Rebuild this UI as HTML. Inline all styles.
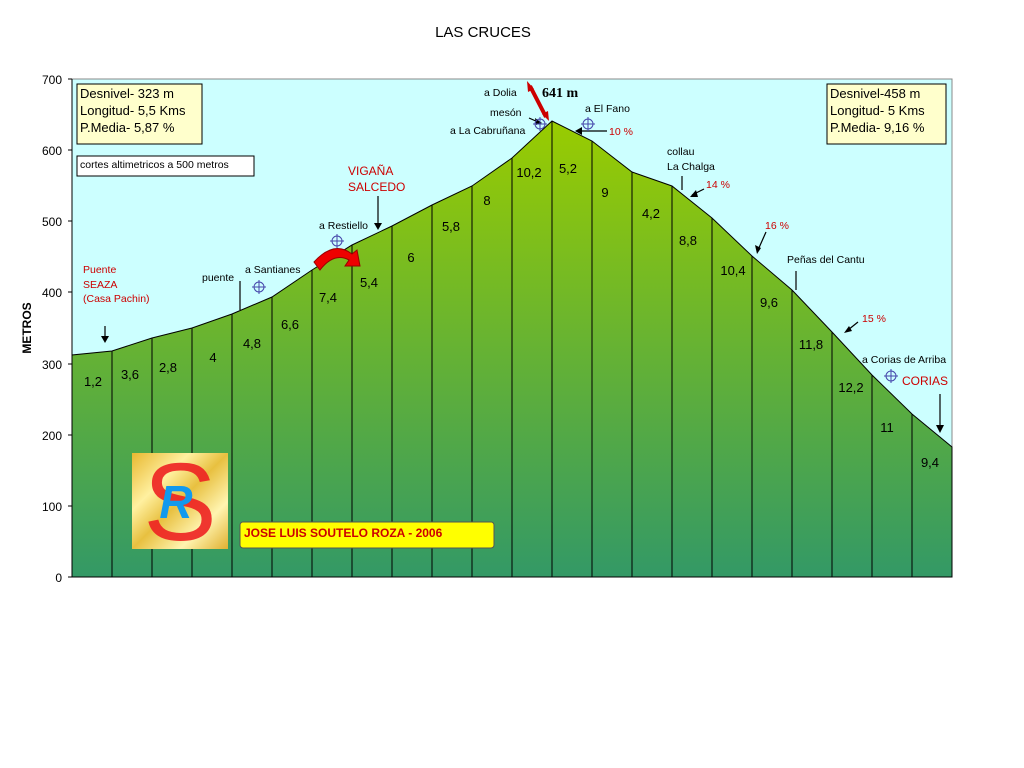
<!DOCTYPE html>
<html><head><meta charset="utf-8"><style>body{margin:0;background:#fff}svg{display:block}</style></head><body>
<svg width="1024" height="768" xmlns="http://www.w3.org/2000/svg" font-family="Liberation Sans, sans-serif">
<defs>
<linearGradient id="g" gradientUnits="userSpaceOnUse" x1="0" y1="121" x2="0" y2="577">
<stop offset="0" stop-color="#99cc00"/><stop offset="1" stop-color="#339966"/></linearGradient>
<linearGradient id="gold" x1="0" y1="0" x2="1" y2="1">
<stop offset="0" stop-color="#e8b830"/><stop offset="0.3" stop-color="#fff0a0"/><stop offset="0.5" stop-color="#e8c040"/><stop offset="0.75" stop-color="#fff4b0"/><stop offset="1" stop-color="#e0b030"/></linearGradient>
</defs>
<text x="483" y="37" font-size="15" text-anchor="middle">LAS CRUCES</text>
<rect x="72" y="79" width="880" height="498" fill="#ccffff" stroke="#888" stroke-width="1"/>
<polygon fill="url(#g)" stroke="#000" stroke-width="1" points="72,577 72,355 112,351 152,338 192,328 232,314 272,297 312,270 352,245 392,226 432,205 472,186 512,158 552,121 592,141 632,172 672,186 712,218 752,256 792,290 832,332 872,375 912,414 952,447 952,577"/>
<g stroke="#000" stroke-width="1">
<line x1="112" y1="351" x2="112" y2="577"/><line x1="152" y1="338" x2="152" y2="577"/><line x1="192" y1="328" x2="192" y2="577"/><line x1="232" y1="314" x2="232" y2="577"/><line x1="272" y1="297" x2="272" y2="577"/><line x1="312" y1="270" x2="312" y2="577"/><line x1="352" y1="245" x2="352" y2="577"/><line x1="392" y1="226" x2="392" y2="577"/><line x1="432" y1="205" x2="432" y2="577"/><line x1="472" y1="186" x2="472" y2="577"/><line x1="512" y1="158" x2="512" y2="577"/><line x1="552" y1="121" x2="552" y2="577"/><line x1="592" y1="141" x2="592" y2="577"/><line x1="632" y1="172" x2="632" y2="577"/><line x1="672" y1="186" x2="672" y2="577"/><line x1="712" y1="218" x2="712" y2="577"/><line x1="752" y1="256" x2="752" y2="577"/><line x1="792" y1="290" x2="792" y2="577"/><line x1="832" y1="332" x2="832" y2="577"/><line x1="872" y1="375" x2="872" y2="577"/><line x1="912" y1="414" x2="912" y2="577"/>
<line x1="72" y1="79" x2="72" y2="577"/><line x1="72" y1="577" x2="952" y2="577"/>
<line x1="68" y1="79" x2="72" y2="79"/><line x1="68" y1="150" x2="72" y2="150"/><line x1="68" y1="221" x2="72" y2="221"/><line x1="68" y1="292" x2="72" y2="292"/><line x1="68" y1="364" x2="72" y2="364"/><line x1="68" y1="435" x2="72" y2="435"/><line x1="68" y1="506" x2="72" y2="506"/><line x1="68" y1="577" x2="72" y2="577"/>
</g>
<g font-size="12" text-anchor="end">
<text x="62" y="84">700</text><text x="62" y="155">600</text><text x="62" y="226">500</text><text x="62" y="297">400</text><text x="62" y="369">300</text><text x="62" y="440">200</text><text x="62" y="511">100</text><text x="62" y="582">0</text></g>
<text transform="translate(31,328) rotate(-90)" font-size="12" font-weight="bold" text-anchor="middle">METROS</text>
<g font-size="13" text-anchor="middle">
<text x="93" y="386">1,2</text><text x="130" y="379">3,6</text><text x="168" y="372">2,8</text><text x="213" y="362">4</text><text x="252" y="348">4,8</text><text x="290" y="329">6,6</text><text x="328" y="302">7,4</text><text x="369" y="287">5,4</text><text x="411" y="262">6</text><text x="451" y="231">5,8</text><text x="487" y="205">8</text><text x="529" y="177">10,2</text><text x="568" y="173">5,2</text><text x="605" y="197">9</text><text x="651" y="218">4,2</text><text x="688" y="245">8,8</text><text x="733" y="275">10,4</text><text x="769" y="307">9,6</text><text x="811" y="349">11,8</text><text x="851" y="392">12,2</text><text x="887" y="432">11</text><text x="930" y="467">9,4</text></g>
<rect x="77" y="84" width="125" height="60" fill="#ffffcc" stroke="#000"/>
<g font-size="13"><text x="80" y="98">Desnivel- 323 m</text><text x="80" y="115">Longitud- 5,5 Kms</text><text x="80" y="132">P.Media- 5,87 %</text></g>
<rect x="827" y="84" width="119" height="60" fill="#ffffcc" stroke="#000"/>
<g font-size="13"><text x="830" y="98">Desnivel-458 m</text><text x="830" y="115">Longitud- 5 Kms</text><text x="830" y="132">P.Media- 9,16 %</text></g>
<rect x="77" y="156" width="177" height="20" fill="#fff" stroke="#000"/>
<text x="80" y="168" font-size="10.5">cortes altimetricos a 500 metros</text>
<g font-size="10.5" fill="#cc0000"><text x="83" y="273">Puente</text><text x="83" y="288">SEAZA</text><text x="83" y="302">(Casa Pachin)</text>
<text x="348" y="175" font-size="12">VIGAÑA</text><text x="348" y="191" font-size="12">SALCEDO</text>
<text x="609" y="135">10 %</text><text x="706" y="188">14 %</text><text x="765" y="229">16 %</text><text x="862" y="322">15 %</text><text x="902" y="385" font-size="12">CORIAS</text></g>
<g font-size="10.5"><text x="202" y="281">puente</text><text x="245" y="273">a Santianes</text><text x="319" y="229">a Restiello</text>
<text x="484" y="96">a Dolia</text><text x="490" y="116">mesón</text><text x="450" y="134">a La Cabruñana</text><text x="585" y="112">a El Fano</text>
<text x="667" y="155">collau</text><text x="667" y="170">La Chalga</text><text x="787" y="263">Peñas del Cantu</text><text x="862" y="363">a Corias de Arriba</text></g>
<text x="542" y="97" font-family="Liberation Serif, serif" font-weight="bold" font-size="14">641 m</text>
<g stroke="#000" stroke-width="1.2" fill="none">
<line x1="105" y1="326" x2="105" y2="340"/><line x1="240" y1="281" x2="240" y2="310"/><line x1="378" y1="196" x2="378" y2="226"/>
<line x1="607" y1="131" x2="580" y2="131"/><line x1="704" y1="189" x2="692" y2="195"/><line x1="766" y1="232" x2="758" y2="250"/>
<line x1="682" y1="176" x2="682" y2="190"/><line x1="796" y1="271" x2="796" y2="290"/><line x1="858" y1="322" x2="848" y2="330"/>
<line x1="940" y1="394" x2="940" y2="428"/><line x1="529" y1="118" x2="538" y2="122"/></g>
<g fill="#000"><polygon points="101,336 109,336 105,343"/><polygon points="374,223 382,223 378,230"/><polygon points="582,127 582,135 575,131"/>
<polygon points="696,190 698,197 690,197"/><polygon points="755,245 761,248 757,254"/><polygon points="849,326 852,331 844,333"/><polygon points="936,425 944,425 940,433"/><polygon points="535,118 536,125 542,123"/></g>
<line x1="530" y1="86" x2="546" y2="117" stroke="#cc0000" stroke-width="4"/>
<polygon points="527,81 534,89 528,92" fill="#cc0000"/><polygon points="549,121 548,111 542,114" fill="#cc0000"/>
<path d="M314,262 Q334,240 352,254 L357,250 L360,266 L345,266 L349,260 Q334,252 320,270 Z" fill="#ee0000" stroke="#990000" stroke-width="1"/>
<g stroke="#4444aa" fill="none" stroke-width="1"><circle cx="259" cy="287" r="5"/><line x1="252" y1="287" x2="266" y2="287"/><line x1="259" y1="280" x2="259" y2="294"/>
<circle cx="337" cy="241" r="5"/><line x1="330" y1="241" x2="344" y2="241"/><line x1="337" y1="234" x2="337" y2="248"/>
<circle cx="540" cy="124" r="5"/><line x1="533" y1="124" x2="547" y2="124"/><line x1="540" y1="117" x2="540" y2="131"/>
<circle cx="588" cy="124" r="5"/><line x1="581" y1="124" x2="595" y2="124"/><line x1="588" y1="117" x2="588" y2="131"/>
<circle cx="891" cy="376" r="5"/><line x1="884" y1="376" x2="898" y2="376"/><line x1="891" y1="369" x2="891" y2="383"/></g>
<rect x="132" y="453" width="96" height="96" fill="url(#gold)"/>
<text x="180" y="540" font-size="110" font-family="Liberation Sans, sans-serif" fill="#ee2222" text-anchor="middle" opacity="0.9">S</text>
<text x="176" y="518" font-size="46" font-family="Liberation Sans, sans-serif" font-style="italic" font-weight="bold" fill="#1199ee" text-anchor="middle">R</text>
<rect x="240" y="522" width="254" height="26" rx="3" fill="#ffff00" stroke="#555" stroke-width="1"/>
<text x="244" y="537" font-size="12" font-weight="bold" fill="#cc0000">JOSE LUIS SOUTELO ROZA - 2006</text>
</svg>
</body></html>
